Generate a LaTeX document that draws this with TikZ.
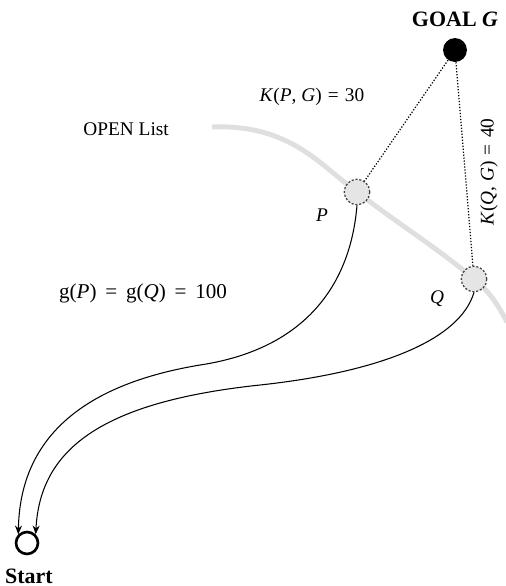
\documentclass[tikz,border=0pt]{standalone}
\usepackage{fontspec}
\setmainfont{Liberation Serif}
\usepackage{tikz}
\usetikzlibrary{arrows.meta}
\newcommand{\vr}[1]{\textit{#1}}
\newcommand{\eqs}[1]{\hspace{#1}=\hspace{#1}}

\begin{document}
\begin{tikzpicture}[x=0.02cm,y=-0.02cm,font=\fontsize{11}{13}\selectfont,
  opennode/.style={circle,draw=black!75,dash pattern=on 1.2pt off 1pt,line width=0.7pt,fill=gray!20,minimum size=14.5pt,inner sep=0pt},
  bold/.style={font=\fontsize{12.5}{14}\selectfont\bfseries},
  path/.style={-{Stealth[length=5pt,width=4pt]},line width=0.6pt}]
\useasboundingbox (0,0) rectangle (505,586);
% open list
\draw[gray!25,line width=2.8pt] (212,127) .. controls (290,124) and (320,165) .. (357,192)
  .. controls (400,225) and (440,250) .. (474,279) .. controls (490,292) and (498,305) .. (507,322);
\node[anchor=east] (open) at (175,129) {OPEN List};
%
\node[circle,fill=black,minimum size=13.6pt,inner sep=0pt] (goal) at (455,50) {};
\node[bold] (goaltxt) at (455,19) {GOAL \vr{G}};
\node[opennode] (P) at (357,192) {};
\node[opennode] (Q) at (474,279) {};
\node[circle,draw,line width=1.5pt,minimum size=12.5pt,inner sep=0pt] (start) at (27,543) {};
\node[bold] (starttxt) at (29,576) {Start};
%
\draw[densely dotted,line width=0.7pt] (goal) -- (P);
\draw[densely dotted,line width=0.7pt] (goal) -- (Q);
\node (kpg) at (312,97) {\vr{K}(\vr{P}, \vr{G})\eqs{3.5pt}30};
\node[rotate=90] (kqg) at (489,172) {\vr{K}(\vr{Q}, \vr{G})\eqs{3.5pt}40};
\node (plab) at (322,215) {\vr{P}};
\node (qlab) at (437,299) {\vr{Q}};
\node[font=\fontsize{12}{14}\selectfont] (gpq) at (143,293) {g(\vr{P})\eqs{5pt}g(\vr{Q})\eqs{5pt}100};
%
\draw[path] (P.south) .. controls (350,290) and (300,350) .. (200,365)
  .. controls (80,385) and (20,440) .. (start.north west);
\draw[path] (Q.south) .. controls (460,340) and (380,372) .. (260,385)
  .. controls (100,402) and (40,450) .. (start.north east);
\end{tikzpicture}
\end{document}
